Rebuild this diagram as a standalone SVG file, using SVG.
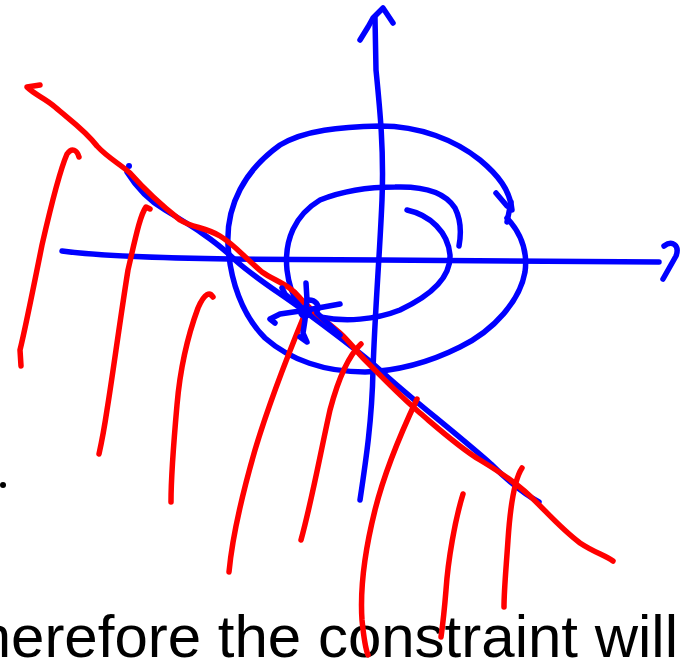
<svg xmlns="http://www.w3.org/2000/svg" width="682" height="662" viewBox="0 0 682 662">
<style>
.b{fill:none;stroke:#0000ff;stroke-width:5.5;stroke-linecap:round;stroke-linejoin:round}
.r{fill:none;stroke:#ff0000;stroke-width:5.5;stroke-linecap:round;stroke-linejoin:round}
.t{font-family:"Liberation Sans",Arial,sans-serif;font-size:60px;fill:#000}
</style>
<rect width="682" height="662" fill="#fff"/>
<text class="t" x="-59" y="657">Therefore the constraint will</text>
<circle cx="3" cy="485" r="3" fill="#000"/>
<g id="blue">
<path class="b" d="M360,500 C366,460 372,420 373,370 C375,310 380,250 382,200 C384,150 380,110 376,70 L375,18"/>
<polyline class="b" points="360,40 368,27 373,18 383,8 393,23"/>
<path class="b" d="M62,251 C100,256 150,258 230,259 L380,260 L659,262"/>
<path class="b" d="M664,246 C672,240 680,245 676,256 L663,279"/>
<path class="b" d="M507,218 C520,232 528,250 525,272 C520,300 495,330 460,347 C430,362 400,371 365,372 C325,372 290,360 265,338 C242,315 230,280 228,245 C226,205 245,170 280,145 C305,130 340,127 380,126 C420,126 455,140 480,160 C498,175 510,190 512,210"/>
<polyline class="b" points="496,193 507,206"/>
<polyline class="b" points="511,202 507,222"/>
<path class="b" d="M407,210 C430,215 448,232 450,255 C451,278 430,296 400,310 C375,320 345,322 320,317 C300,313 290,295 287,270 C284,240 295,215 320,200 C345,190 370,187 395,187 C425,186 445,192 455,208 C461,220 461,235 459,246"/>
<circle cx="129" cy="166" r="3" fill="#0000ff"/>
<path class="b" d="M127,172 C135,185 145,198 165,210 C190,225 215,240 235,260 C255,278 280,293 307,313 C330,330 360,352 380,370 C410,398 450,428 491,464 C505,478 520,492 539,502"/>
</g>
<g id="red">
<path class="r" d="M40,85 L27,87 C35,95 45,98 55,107 C70,120 85,130 97,146 C108,158 120,164 130,173 C145,190 160,204 180,220 C193,228 205,227 220,236 C235,245 245,258 262,272 C275,281 290,285 300,298 C310,310 325,320 340,333 C350,342 355,350 365,360 C385,380 400,396 420,413 C440,430 460,448 480,460 C500,472 515,482 530,496 C545,510 560,528 580,543 C595,553 605,555 613,561"/>
<path class="r" d="M79,157 C77,150 72,147 67,154 C60,170 50,210 42,245 C33,290 25,330 20,350 L21,366"/>
<path class="r" d="M150,209 L146,207 C140,215 135,240 128,270 C120,320 112,380 107,410 C104,430 101,445 99,454"/>
<path class="r" d="M213,297 C210,292 205,292 198,308 C188,335 180,370 177,405 C173,450 171,480 171,502"/>
<path class="r" d="M304,316 C290,350 270,400 255,450 C242,495 232,540 229,572"/>
<path class="r" d="M361,344 C348,356 338,380 330,410 C320,455 312,500 301,540"/>
<path class="r" d="M417,399 C400,435 385,470 375,510 C365,550 360,590 362,620 C364,640 366,650 368,655"/>
<path class="r" d="M463,494 C455,520 448,560 446,590 C444,615 442,630 441,637"/>
<path class="r" d="M522,468 C514,480 510,510 508,540 C506,570 504,590 504,607"/>
</g>
<g id="star">
<circle cx="305" cy="312" r="7" fill="#0000ff"/>
<polyline class="b" points="275,323 270,319 280,314 307,310 340,304"/>
<polyline class="b" points="306,283 307,300 305,320 303,333 307,342 300,337"/>
<polyline class="b" points="282,288 285,294 305,311"/>
<path class="b" d="M307,300 C316,299 320,306 317,311"/>
<polyline class="b" points="317,313 340,335"/>
</g>
</svg>
